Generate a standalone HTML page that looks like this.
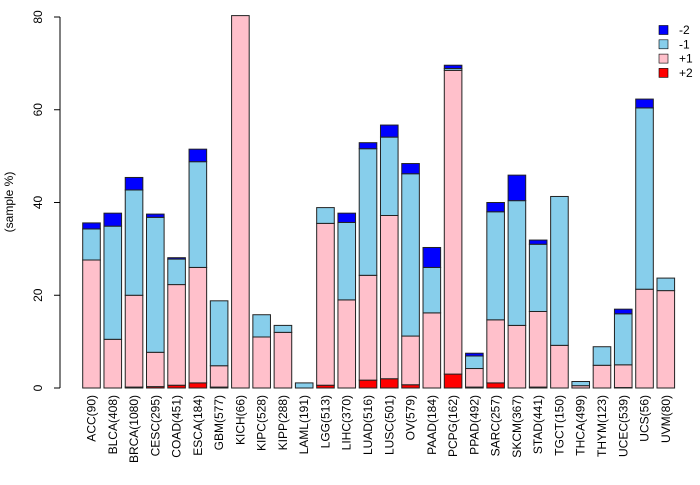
<!DOCTYPE html>
<html><head><meta charset="utf-8"><style>
body{margin:0;background:#fff}
svg text{font-family:"Liberation Sans",sans-serif;font-size:12px}
</style></head><body>
<svg id="chart" width="700" height="480" xmlns="http://www.w3.org/2000/svg"></svg>
<script>
const categories=["ACC(90)","BLCA(408)","BRCA(1080)","CESC(295)","COAD(451)","ESCA(184)","GBM(577)","KICH(66)","KIPC(528)","KIPP(288)","LAML(191)","LGG(513)","LIHC(370)","LUAD(516)","LUSC(501)","OV(579)","PAAD(184)","PCPG(162)","PPAD(492)","SARC(257)","SKCM(367)","STAD(441)","TGCT(150)","THCA(499)","THYM(123)","UCEC(539)","UCS(56)","UVM(80)"];
const plus2=[0,0,0.2,0.3,0.6,1.1,0.2,0,0,0,0,0.6,0,1.7,2.0,0.7,0,3.0,0.2,1.1,0,0.2,0,0,0,0.1,0,0];
const plus1=[27.6,10.5,19.8,7.4,21.7,24.9,4.6,80.3,11.0,12.0,0,34.9,19.0,22.6,35.2,10.5,16.2,65.5,4.0,13.6,13.5,16.3,9.2,0.5,4.9,4.9,21.3,21.0];
const minus1=[6.7,24.4,22.7,29.1,5.5,22.8,14.0,0,4.8,1.5,1.1,3.4,16.7,27.3,16.9,35.0,9.8,0.4,2.7,23.3,26.9,14.5,32.1,0.9,4.0,11.0,39.1,2.7];
const minus2=[1.3,2.8,2.7,0.7,0.3,2.7,0,0,0,0,0,0,2.0,1.3,2.6,2.2,4.3,0.7,0.6,2.0,5.5,0.9,0,0,0,1.0,1.9,0];
const yTicks=[0,20,40,60,80];
const seriesNames=["-2","-1","+1","+2"];
const NS="http://www.w3.org/2000/svg";
const svg=document.getElementById('chart');
const y0=388,unit=371/80;
const yS=v=>y0-v*unit;
const x0=82.7,pitch=21.27,bw=17.6;
const xS=i=>x0+i*pitch;
function mk(t,a){const e=document.createElementNS(NS,t);for(const k in a)e.setAttribute(k,a[k]);svg.appendChild(e);return e;}
// axis
const ax=mk('line',{x1:60,y1:yS(0),x2:60,y2:yS(80),stroke:'#000'});


yTicks.forEach(t=>{
  const tk=mk('line',{x1:54,x2:60,y1:yS(t),y2:yS(t),stroke:'#000'});
  
  
  const tx=mk('text',{transform:`translate(42,${yS(t)}) rotate(-90)`,'text-anchor':'middle'});
  tx.textContent=t;
  
  
});
const yt=mk('text',{transform:'translate(13,202) rotate(-90)','text-anchor':'middle'});
yt.textContent='(sample %)';


const colors=["red","pink","skyblue","blue"];
const segs=[plus2,plus1,minus1,minus2];
categories.forEach((c,i)=>{
  let cum=0;
  segs.forEach((arr,s)=>{
    const v=arr[i];
    if(v>0){
      const r=mk('rect',{x:xS(i),y:yS(cum+v),width:bw,height:v*unit,fill:colors[s],stroke:'#222','stroke-width':1});
      
      
    }
    cum+=v;
  });
  const tx=mk('text',{transform:`translate(${xS(i)+bw/2+4},395) rotate(-90)`,'text-anchor':'end'});
  tx.textContent=c;
  
  
});
const legColors=["blue","skyblue","pink","red"];
seriesNames.forEach((n,k)=>{
  const yy=30+k*14.3;
  const r=mk('rect',{x:659,y:yy-4.5,width:9,height:9,fill:legColors[k],stroke:'#000','stroke-width':0.6});
  
  
  const t=mk('text',{x:679,y:yy+4,'font-size':'11px'});
  t.textContent=n;
  
  
});
</script>
</body></html>
